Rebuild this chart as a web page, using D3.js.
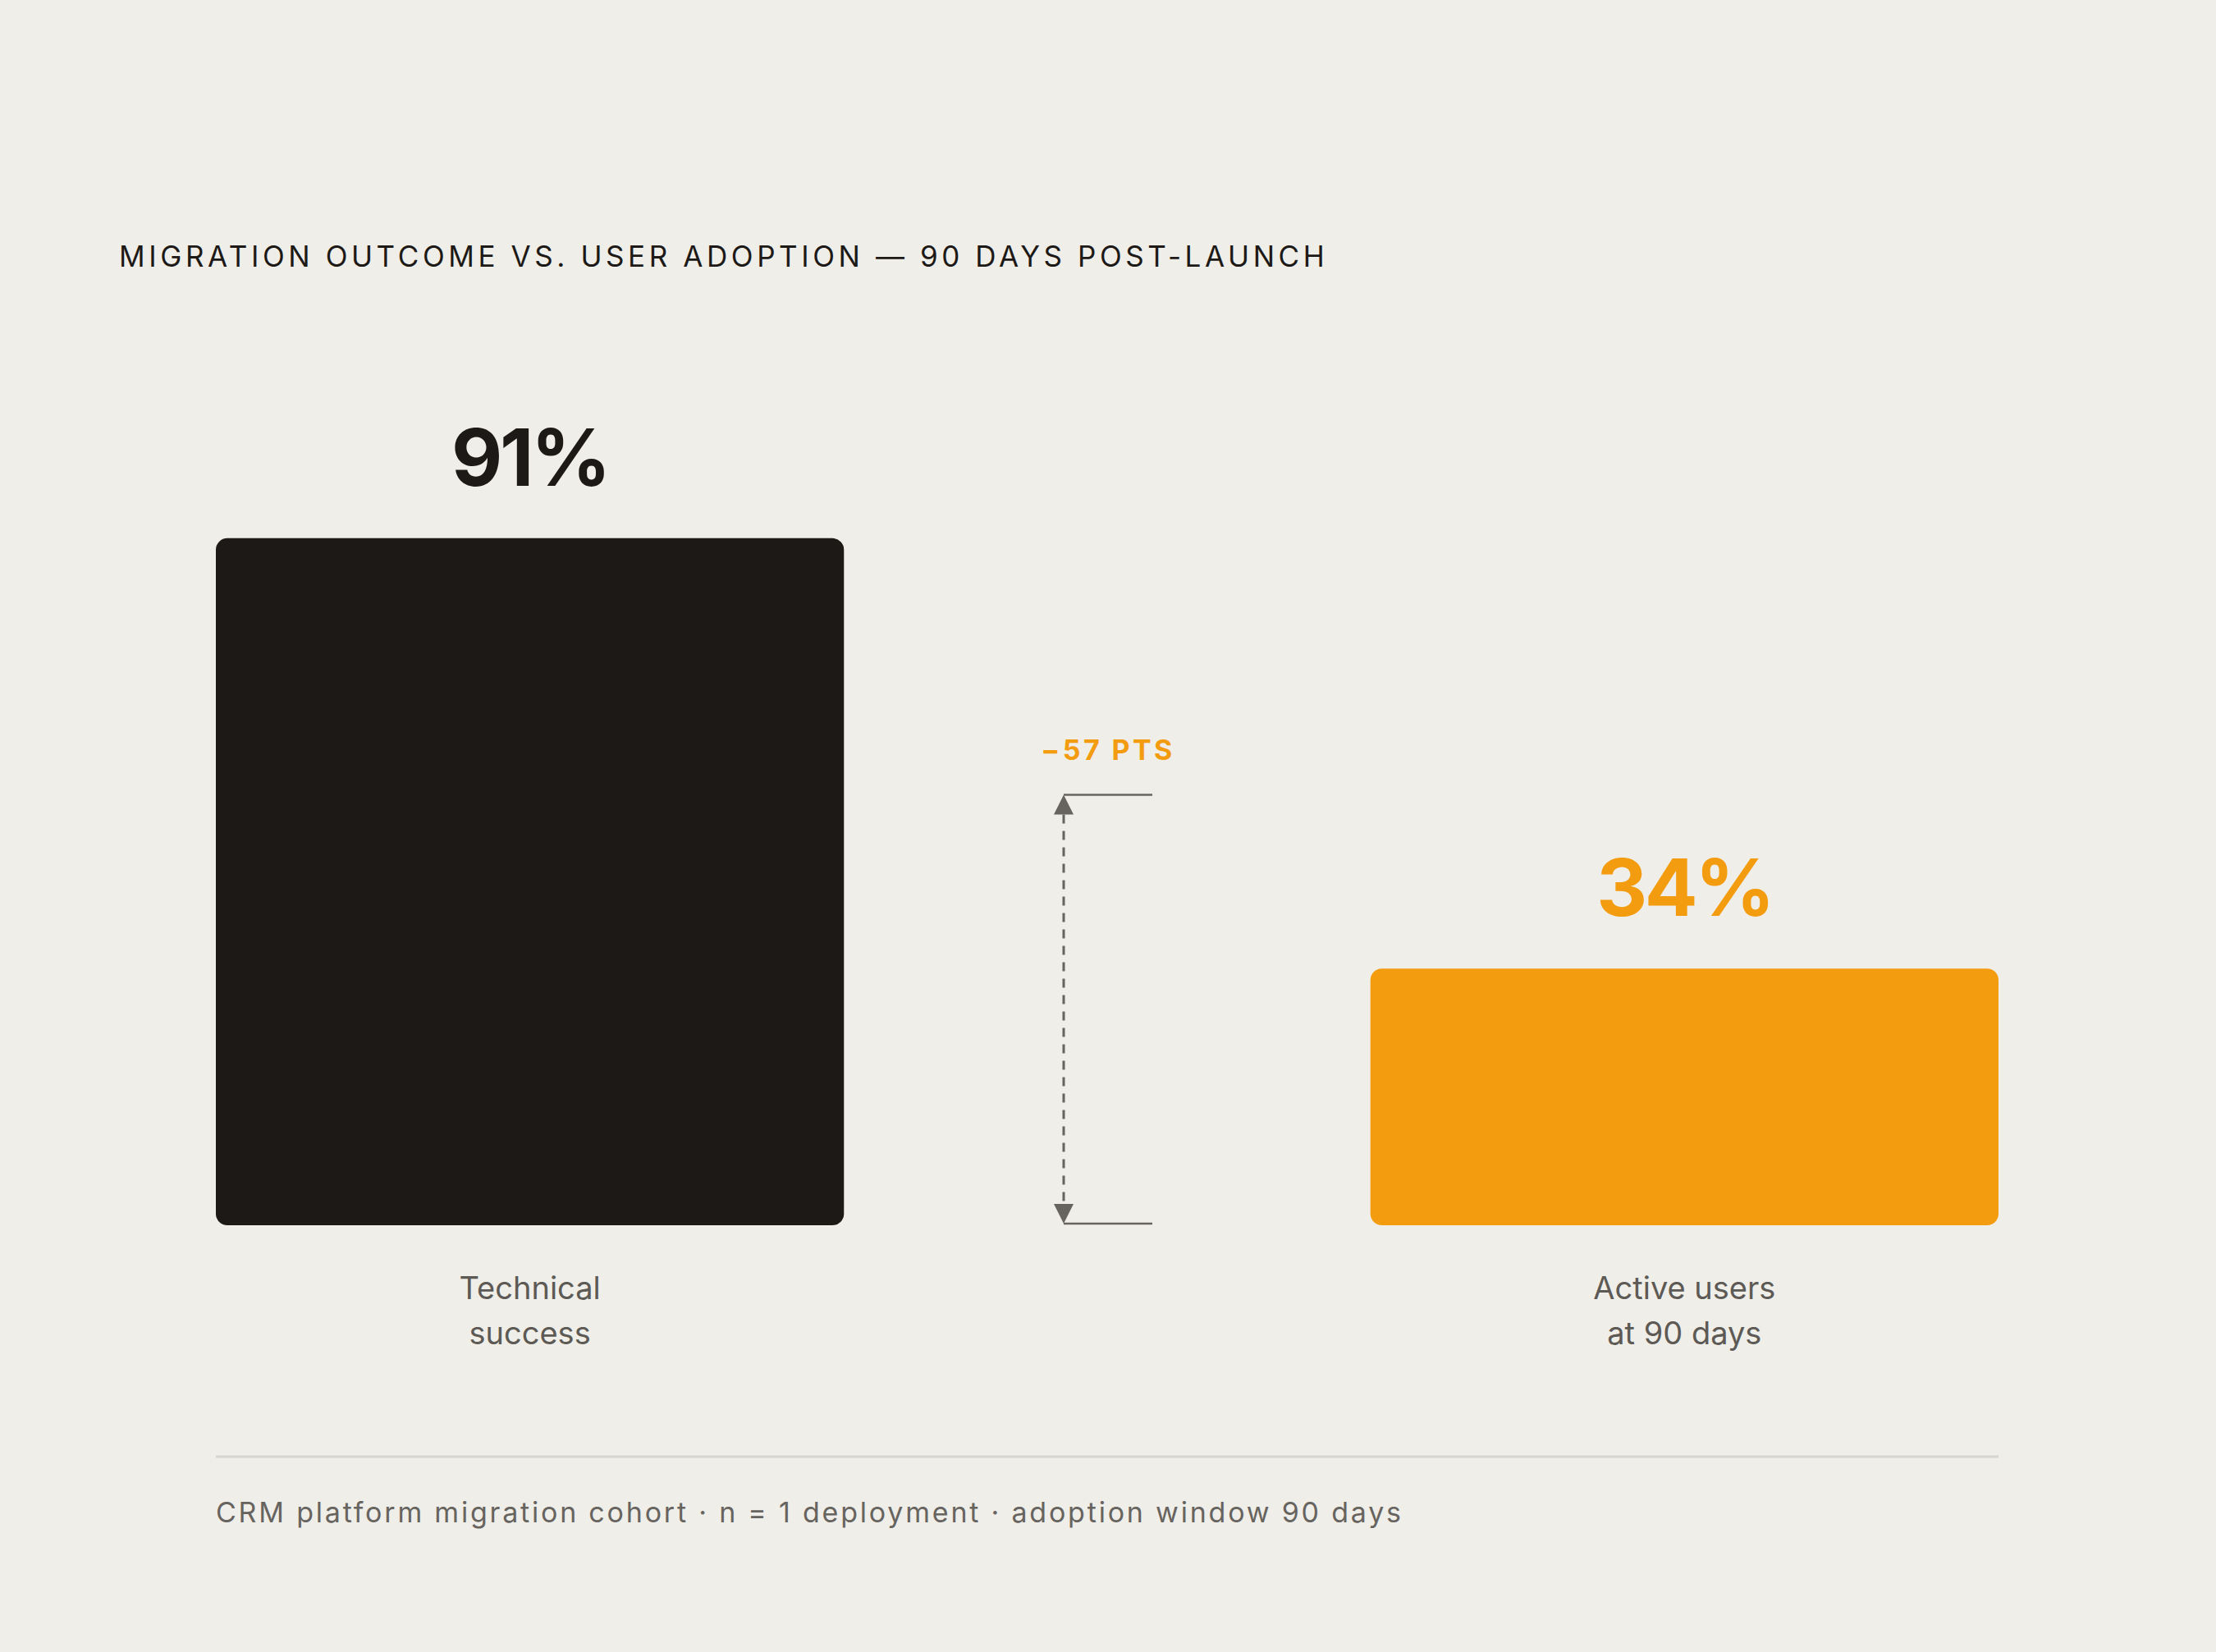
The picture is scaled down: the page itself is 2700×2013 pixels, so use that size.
<!DOCTYPE html>
<html>
<head>
<meta charset="utf-8">
<script src="https://cdn.jsdelivr.net/npm/d3@7"></script>
<style>
  html, body { margin: 0; padding: 0; background: #f0eee9; }
  svg { display: block; }
</style>
</head>
<body>
<svg></svg>
<script>
const categories = ["Technical success", "Active users at 90 days"];
const labelLines = [["Technical", "success"], ["Active users", "at 90 days"]];
const values = [91, 34];
const barColors = ["#1c1916", "#f39c10"];
const valueColors = ["#1c1916", "#f39c10"];
const yDomain = [0, 100];

const W = 2700, H = 2013;
const font = "Inter, 'DejaVu Sans', sans-serif";

const svg = d3.select("svg").attr("width", W).attr("height", H);
svg.append("rect").attr("width", W).attr("height", H).attr("fill", "#f0eee9");

// title
svg.append("text")
    .attr("x", 145).attr("y", 325)
    .attr("font-family", font).attr("font-size", 35).attr("font-weight", 400)
    .attr("letter-spacing", "0.131em")
    .attr("fill", "#1c1916")
    .text("MIGRATION OUTCOME VS. USER ADOPTION — 90 DAYS POST-LAUNCH");

var x = d3.scaleBand().domain(categories).range([263, 2435]).paddingInner(0.456).paddingOuter(0);
var y = d3.scaleLinear().domain(yDomain).range([1493, 573]);

var data = categories.map((c, i) => ({ cat: c, value: values[i], i: i }));

svg.selectAll("rect.bar")
    .data(data)
    .enter()
    .append("rect")
    .attr("class", "bar")
    .attr("x", d => x(d.cat))
    .attr("y", d => y(d.value))
    .attr("width", x.bandwidth())
    .attr("height", d => y(0) - y(d.value))
    .attr("rx", 14).attr("ry", 14)
    .attr("fill", d => barColors[d.i]);

// value labels
svg.selectAll("text.val")
    .data(data)
    .enter()
    .append("text")
    .attr("class", "val")
    .attr("x", d => x(d.cat) + x.bandwidth() / 2)
    .attr("y", d => y(d.value) - 64)
    .attr("text-anchor", "middle")
    .attr("font-family", font).attr("font-size", 96).attr("font-weight", 700)
    .attr("letter-spacing", "-0.035em")
    .attr("fill", d => valueColors[d.i])
    .text(d => d.value + "%");

// category labels
var cat = svg.selectAll("text.cat")
    .data(data)
    .enter()
    .append("text")
    .attr("class", "cat")
    .attr("text-anchor", "middle")
    .attr("font-family", font).attr("font-size", 38)
    .attr("fill", "#5d5a55");
cat.selectAll("tspan")
    .data(d => labelLines[d.i].map(t => ({ t: t, d: d })))
    .enter()
    .append("tspan")
    .attr("x", o => x(o.d.cat) + x.bandwidth() / 2)
    .attr("y", (o, j) => 1583 + j * 55)
    .text(o => o.t);

// gap bracket
var diff = values[1] - values[0];
var bx = 1296, bEnd = 1404;
var yTop = y(Math.abs(diff)), yBot = y(0) - 2;
var grey = "#67645f";

svg.append("line").attr("x1", bx).attr("x2", bEnd).attr("y1", yTop).attr("y2", yTop)
    .attr("stroke", grey).attr("stroke-width", 2.5);
svg.append("line").attr("x1", bx).attr("x2", bEnd).attr("y1", yBot).attr("y2", yBot)
    .attr("stroke", grey).attr("stroke-width", 2.5);
svg.append("line").attr("x1", bx).attr("x2", bx).attr("y1", yTop + 24).attr("y2", yBot - 24)
    .attr("stroke", grey).attr("stroke-width", 3).attr("stroke-dasharray", "11,9");
svg.append("path")
    .attr("d", `M${bx},${yTop} L${bx - 12},${yTop + 24} L${bx + 12},${yTop + 24} Z`)
    .attr("fill", grey);
svg.append("path")
    .attr("d", `M${bx},${yBot} L${bx - 12},${yBot - 24} L${bx + 12},${yBot - 24} Z`)
    .attr("fill", grey);

svg.append("text")
    .attr("x", 1350).attr("y", yTop - 43)
    .attr("text-anchor", "middle")
    .attr("font-family", font).attr("font-size", 34).attr("font-weight", 700)
    .attr("letter-spacing", "0.1em")
    .attr("fill", "#f39c10")
    .text("−" + Math.abs(diff) + " PTS");

// divider + footer
svg.append("line").attr("x1", 263).attr("x2", 2435).attr("y1", 1775).attr("y2", 1775)
    .attr("stroke", "#d8d5cf").attr("stroke-width", 3);

svg.append("text")
    .attr("x", 263).attr("y", 1855)
    .attr("font-family", font).attr("font-size", 34)
    .attr("letter-spacing", "0.082em")
    .attr("fill", "#67645f")
    .text("CRM platform migration cohort · n = 1 deployment · adoption window 90 days");
</script>
</body>
</html>
